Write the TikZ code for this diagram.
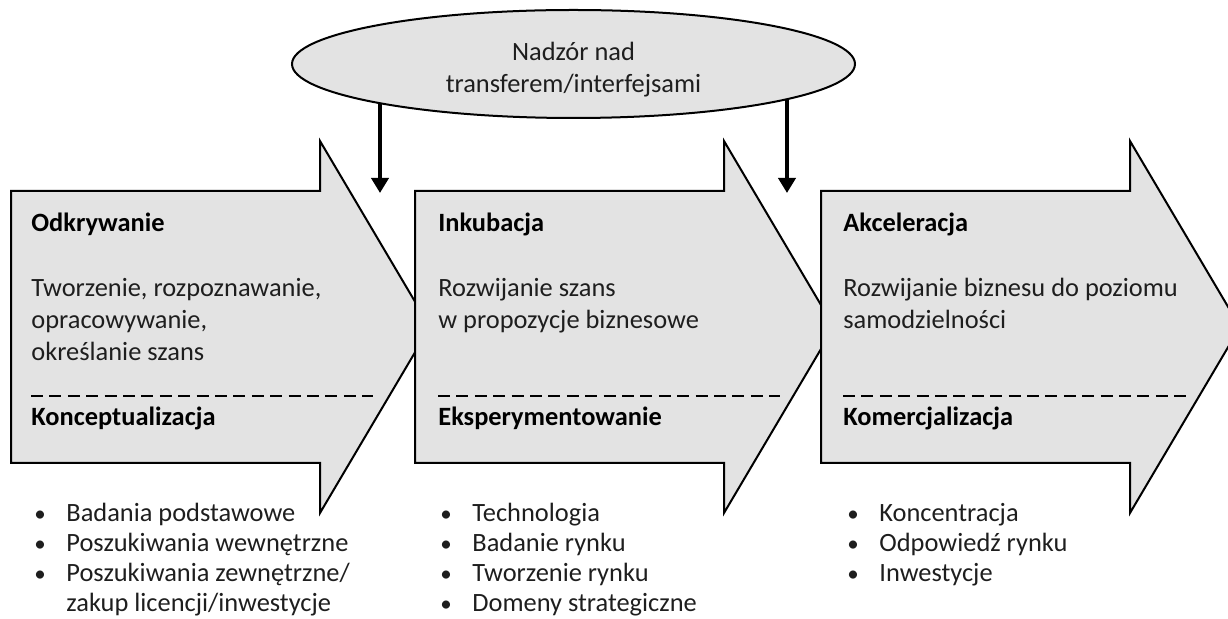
\documentclass[tikz,border=0pt]{standalone}
\usepackage{fontspec}
\setmainfont{Carlito}
\usetikzlibrary{arrows.meta,positioning,shapes.geometric,backgrounds}
\definecolor{stagefill}{RGB}{227,227,227}
\definecolor{bodytext}{RGB}{30,30,30}
\tikzset{
  stage/.style={draw=black,fill=stagefill,line width=1pt,line join=miter},
  supervision/.style={ellipse,draw=black,fill=stagefill,line width=1pt,minimum width=281.5pt,minimum height=54pt,inner sep=0pt},
  supervtext/.style={anchor=base,inner sep=0pt,align=center,font=\fontsize{13.2}{16}\selectfont,text=bodytext},
  feed/.style={-{Triangle[width=8.5pt,length=7.5pt]},line width=2pt},
  phase/.style={anchor=base west,inner sep=0pt,font=\fontsize{13.2}{16}\selectfont\bfseries},
  descr/.style={anchor=base west,inner sep=0pt,align=left,font=\fontsize{13.2}{16}\selectfont,text=bodytext},
  items/.style={anchor=base west,inner sep=0pt,align=left,font=\fontsize{13.2}{15}\selectfont,text=bodytext},
  divider/.style={line width=0.7pt,dash pattern=on 6pt off 3.2pt},
  stagearrow/.pic={\draw[stage] (0,191) -- (309,191) -- (309,141) -- (419,327) -- (309,513) -- (309,463) -- (0,463) -- cycle;}
}
\newcommand{\bul}{\makebox[16pt][l]{\raisebox{0.2pt}{\fontsize{11.5}{11}\selectfont•}}}

\begin{document}
\begin{tikzpicture}[x=0.5pt,y=-0.5pt]
\useasboundingbox (0,0) rectangle (1228,619);
\clip (0,0) rectangle (1228,619);

% three stages
\pic at (11,0) {stagearrow};
\pic at (415,0) {stagearrow};
\pic at (821,0) {stagearrow};

% supervision of the transfer
\node[supervision] (superv) at (573.5,64) {};
\node[supervtext] (supervlbl) at (573.5,93) {Nadzór nad\\transferem/interfejsami};
\coordinate (drop1) at (380,193);
\coordinate (drop2) at (787,193);
\begin{scope}[on background layer]
\draw[feed] (superv.center -| drop1) -- (drop1);
\draw[feed] (superv.center -| drop2) -- (drop2);
\end{scope}

% stage 1 (multi-line texts sit on their last baseline)
\node[phase] (odkr) at (31,232) {Odkrywanie};
\node[descr] (odkrtxt) at (31,361) {Tworzenie, rozpoznawanie,\\opracowywanie,\\określanie szans};
\draw[divider] (31,396) -- (373,396);
\node[phase] (konc) at (31,426) {Konceptualizacja};
\node[items] (konclist) at (34,612) {\bul Badania podstawowe\\\bul Poszukiwania wewnętrzne\\\bul Poszukiwania zewnętrzne/\\\hspace*{16pt}zakup licencji/inwestycje};

% stage 2
\node[phase] (inkub) at (438,232) {Inkubacja};
\node[descr] (inkubtxt) at (438,329) {Rozwijanie szans\\w propozycje biznesowe};
\draw[divider] (438,396) -- (780,396);
\node[phase] (eksp) at (438,426) {Eksperymentowanie};
\node[items] (eksplist) at (440,612) {\bul Technologia\\\bul Badanie rynku\\\bul Tworzenie rynku\\\bul Domeny strategiczne};

% stage 3
\node[phase] (akcel) at (843,232) {Akceleracja};
\node[descr] (akceltxt) at (843,329) {Rozwijanie biznesu do poziomu\\samodzielności};
\draw[divider] (843,396) -- (1187,396);
\node[phase] (komerc) at (843,426) {Komercjalizacja};
\node[items] (komerclist) at (847,582) {\bul Koncentracja\\\bul Odpowiedź rynku\\\bul Inwestycje};

\end{tikzpicture}
\end{document}
